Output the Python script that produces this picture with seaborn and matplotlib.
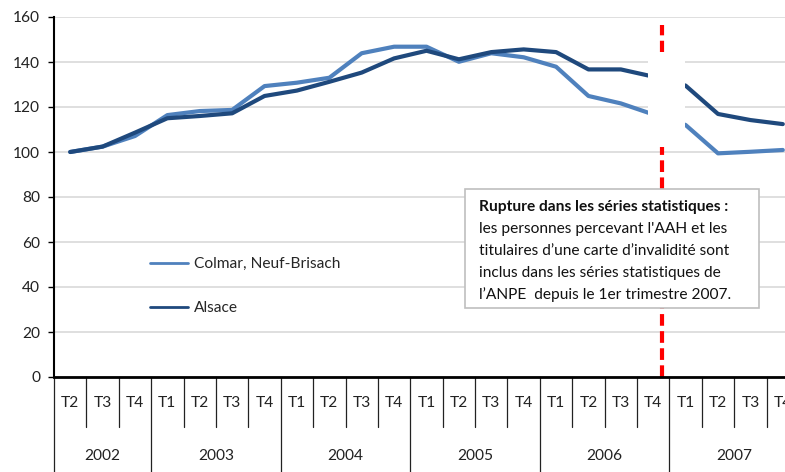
import pandas as pd
import matplotlib.pyplot as plt
import seaborn as sns
from matplotlib.patches import Rectangle

# Données (indice base 100 au T2 2002)
quarters = ["T2", "T3", "T4"] + ["T1", "T2", "T3", "T4"] * 5
years = ["2002", "2003", "2004", "2005", "2006", "2007"]
colmar = [100, 102.4, 107.1, 116.4, 118.2, 118.7, 129.3, 130.8, 133.0, 143.9,
          146.8, 146.8, 140.1, 143.9, 142.1, 137.9, 124.9, 121.6, 116.7, 112.0,
          99.4, 100.1, 100.9]
alsace = [100, 102.4, 108.6, 115.0, 116.0, 117.2, 124.9, 127.3, 131.2, 135.3,
          141.6, 145.0, 141.2, 144.4, 145.6, 144.4, 136.7, 136.7, 133.5, 129.5,
          116.9, 114.2, 112.4]
series_names = ["Colmar, Neuf-Brisach", "Alsace"]
rupture_pos = 18.28
note_title = "Rupture dans les séries statistiques :"
note_lines = [
    "les personnes percevant l'AAH et les",
    "titulaires d\u2019une carte d\u2019invalidité sont",
    "inclus dans les séries statistiques de",
    "l\u2019ANPE  depuis le 1er trimestre 2007.",
]

sns.set_style("white")
plt.rcParams['font.family'] = ['Lato', 'DejaVu Sans']
FS = 11.2
plt.rcParams['font.size'] = FS

W, H = 785, 472
fig = plt.figure(figsize=(W / 100, H / 100), dpi=100)
ax = fig.add_axes([54 / W, 95 / H, 745 / W, 360 / H])

n = len(quarters)
df = pd.DataFrame({
    'idx': list(range(n)) * 2,
    'valeur': colmar + alsace,
    'serie': [series_names[0]] * n + [series_names[1]] * n,
})

sns.lineplot(data=df, x='idx', y='valeur', hue='serie', hue_order=series_names,
             palette=['#4F81BD', '#1F497D'], linewidth=3.0, ax=ax,
             solid_joinstyle='round', solid_capstyle='round')

ax.set_xlim(-0.5, n - 0.5)
ax.set_ylim(0, 160)
ax.set_yticks(range(0, 161, 20))
ax.set_xlabel('')
ax.set_ylabel('')
ax.yaxis.grid(True, color='#D9D9D9', linewidth=1.2)
ax.set_axisbelow(True)
for s in ['top', 'right']:
    ax.spines[s].set_visible(False)
ax.spines['left'].set_color('black')
ax.spines['left'].set_linewidth(1.5)
ax.spines['bottom'].set_color('black')
ax.spines['bottom'].set_linewidth(2)
ax.spines['bottom'].set_zorder(6)
ax.tick_params(axis='y', direction='out', length=4, width=1, color='black',
               pad=6, labelsize=FS, labelcolor='#222222', left=True)

# axe des catégories : trimestres + années
ax.set_xticks(range(n), quarters)
ax.tick_params(axis='x', length=0, pad=14, labelsize=FS, labelcolor='#222222')
tr = ax.get_xaxis_transform()
year_starts = [0] + [i for i, q in enumerate(quarters) if q == "T1"]
year_bounds = [s - 0.5 for s in year_starts] + [n - 0.5]
for i in range(n + 1):
    b = i - 0.5
    low = -0.27 if b in year_bounds else -0.139
    ax.plot([b, b], [0, low], transform=tr, clip_on=False, color='#222222', lw=0.9)
for k, y in enumerate(years):
    centre = (year_bounds[k] + year_bounds[k + 1]) / 2
    ax.text(centre, -0.219, y, transform=tr, ha='center', va='center',
            fontsize=FS, color='#222222')

# rupture de série
ax.axvline(rupture_pos, ymin=0, ymax=156.4 / 160, color='#FF0000', lw=3,
           ls=(0, (2.8, 1.3)), zorder=3)
ax.add_patch(Rectangle((17.83, 102.2), 1.15, 42.2, facecolor='white',
                       edgecolor='none', zorder=4))

# légende
leg = ax.legend(loc='upper left', bbox_to_anchor=(150 / W, 1 - 257 / H),
                bbox_transform=fig.transFigure, frameon=False, borderpad=0,
                borderaxespad=0, handlelength=2.45, handletextpad=0.35,
                labelspacing=1.95, fontsize=FS)
for line in leg.get_lines():
    line.set_linewidth(2)

# encadré
fig.add_artist(Rectangle((465 / W, 1 - 308 / H), 294 / W, 119 / H,
                         transform=fig.transFigure, facecolor='white',
                         edgecolor='#BFBFBF', lw=1.2, zorder=10))
fig.text(479 / W, 1 - 207 / H, note_title, fontweight='bold', fontsize=FS,
         va='center', ha='left', color='#111111', zorder=11)
for k, line in enumerate(note_lines):
    fig.text(479 / W, 1 - (229 + 22 * k) / H, line, fontsize=FS,
             va='center', ha='left', color='#111111', zorder=11)

fig.savefig('out.png', dpi=100)
